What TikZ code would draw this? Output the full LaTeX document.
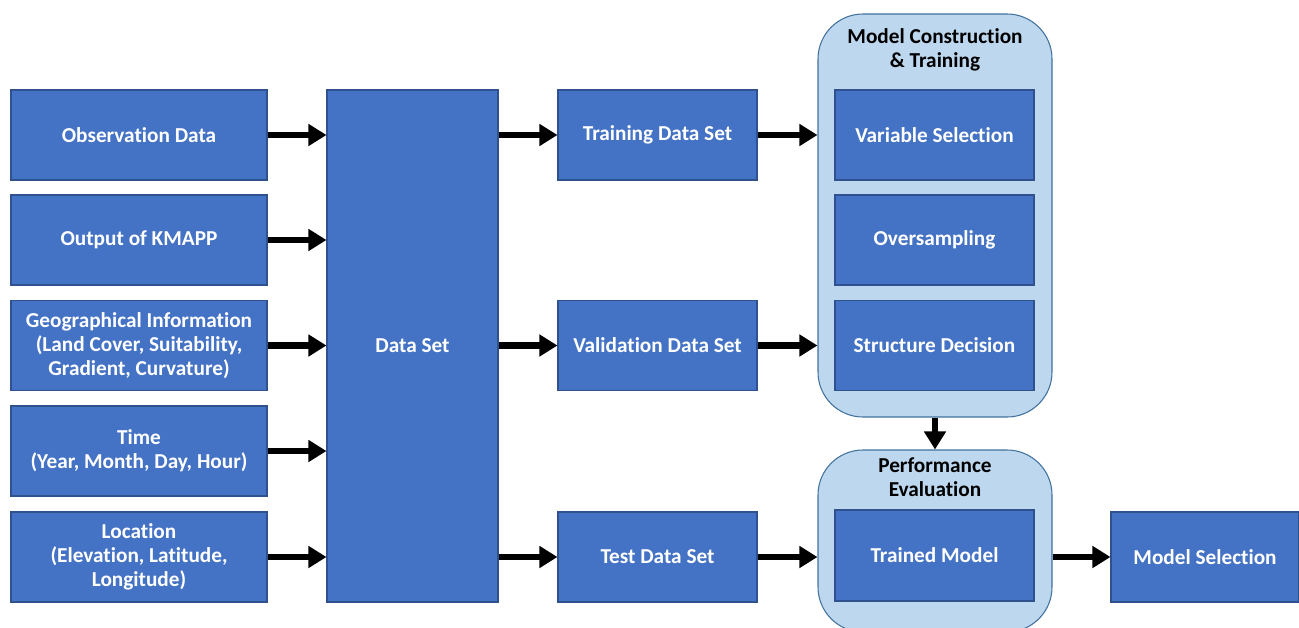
\documentclass[tikz,border=0pt]{standalone}
\usepackage{fontspec}
\setmainfont{Carlito}[Ligatures=NoCommon]
\usetikzlibrary{arrows.meta}
\definecolor{boxblue}{RGB}{68,114,196}
\definecolor{boxline}{RGB}{47,82,143}
\definecolor{grpfill}{RGB}{189,215,238}
\definecolor{grpline}{RGB}{65,113,156}
\tikzset{
  blk/.style={draw=boxline,fill=boxblue,text=white,font=\bfseries\fontsize{12.1}{13.7}\selectfont,
    align=center,inner sep=0pt,line width=0.6pt},
  grp/.style={draw=grpline,fill=grpfill,rounded corners=9mm,line width=0.6pt,inner sep=0pt},
  ttl/.style={font=\bfseries\fontsize{12.1}{13.7}\selectfont,align=center},
  arr/.style={line width=1.25mm,-{Triangle[length=3.6mm,width=4.2mm]}}
}
\begin{document}
\begin{tikzpicture}[x=0.2mm,y=-0.2mm]
   \useasboundingbox (0,0) rectangle (1299,627);
   % groups
   \node[grp,minimum width=46.8mm,minimum height=80.6mm] (mct) at (935,215.5) {};
   \node[grp,minimum width=46.8mm,minimum height=36.4mm] (perf) at (935,541) {};
   \node[ttl] (mcttitle) at (935,50) {Model Construction\\\& Training};
   \node[ttl] (perftitle) at (935,477.5) {Performance\\Evaluation};
   % inputs
   \node[blk,minimum width=51.2mm,minimum height=18mm] (obs)   at (139,135)   {Observation Data};
   \node[blk,minimum width=51.2mm,minimum height=18mm] (kmapp) at (139,240)   {Output of KMAPP};
   \node[blk,minimum width=51.2mm,minimum height=18mm] (geo)   at (139,345.5) {Geographical Information\\(Land Cover, Suitability,\\Gradient, Curvature)};
   \node[blk,minimum width=51.2mm,minimum height=18mm] (time)  at (139,451)   {Time\\(Year, Month, Day, Hour)};
   \node[blk,minimum width=51.2mm,minimum height=18mm] (loc)   at (139,557)   {Location\\(Elevation, Latitude,\\Longitude)};
   \node[blk,minimum width=34.2mm,minimum height=102.4mm] (dataset) at (412.5,346) {Data Set};
   % splits
   \node[blk,minimum width=39.8mm,minimum height=18mm] (train) at (657.5,135)   {Training Data Set};
   \node[blk,minimum width=39.8mm,minimum height=18mm] (valid) at (657.5,345.5) {Validation Data Set};
   \node[blk,minimum width=39.8mm,minimum height=18mm] (test)  at (657.5,557)   {Test Data Set};
   % model steps
   \node[blk,minimum width=39.8mm,minimum height=18mm] (varsel) at (934.5,135)   {Variable Selection};
   \node[blk,minimum width=39.8mm,minimum height=18mm] (over)   at (934.5,240)   {Oversampling};
   \node[blk,minimum width=39.8mm,minimum height=18mm] (struct) at (934.5,345.5) {Structure Decision};
   \node[blk,minimum width=39.8mm,minimum height=18.2mm] (trained) at (934.5,555.5) {Trained Model};
   \node[blk,minimum width=37.6mm,minimum height=18mm] (select) at (1205,557) {Model Selection};
   % arrows
   \foreach \n in {obs,kmapp,geo,time,loc}
     \draw[arr] (\n.east) -- (\n.east -| dataset.west);
   \foreach \n in {train,valid,test}
     \draw[arr] (\n.west -| dataset.east) -- (\n.west);
   \draw[arr] (train.east) -- (train.east -| mct.west);
   \draw[arr] (valid.east) -- (valid.east -| mct.west);
   \draw[arr] (test.east) -- (test.east -| perf.west);
   \draw[arr] (mct.south) -- (perf.north);
   \draw[arr] (select.west -| perf.east) -- (select.west);
\end{tikzpicture}
\end{document}
